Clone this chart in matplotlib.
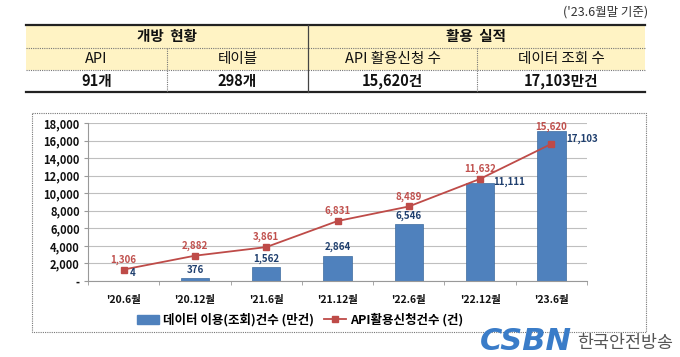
import matplotlib.pyplot as plt
from matplotlib.patches import Rectangle, Patch
from matplotlib.lines import Line2D

plt.rcParams['font.family'] = ['Noto Sans CJK KR', 'DejaVu Sans']

# chart data
periods = ["'20.6월", "'20.12월", "'21.6월", "'21.12월", "'22.6월", "'22.12월", "'23.6월"]
data_views = [4, 376, 1562, 2864, 6546, 11111, 17103]        # 만건 (bars)
api_requests = [1306, 2882, 3861, 6831, 8489, 11632, 15620]  # 건 (line)
y_ticks = [0, 2000, 4000, 6000, 8000, 10000, 12000, 14000, 16000, 18000]

# summary table
group_heads = ['개방  현황', '활용  실적']
sub_heads = ['API', '테이블', 'API 활용신청 수', '데이터 조회 수']
sub_values = ['91개', '298개', '15,620건', '17,103만건']

W, H = 680, 357
fig = plt.figure(figsize=(W / 100, H / 100), dpi=100)

# overlay axes in pixel coords for table, border, logo
bg = fig.add_axes([0, 0, 1, 1])
bg.set_xlim(0, W)
bg.set_ylim(H, 0)
bg.axis('off')

bg.text(648, 12, "('23.6월말 기준)", ha='right', va='center', fontsize=9, color='#333333')

x0, x1 = 26, 645
xmid = 308
xsub = [167, 477]
r0, r1, r2, r3 = 25, 48, 70, 92
yellow = '#FFF3C4'
bg.add_patch(Rectangle((x0, r0), x1 - x0, r2 - r0, color=yellow, lw=0))
bg.plot([x0, x1], [r0, r0], color='#222222', lw=1.6)
bg.plot([x0, x1], [r3, r3], color='#222222', lw=1.6)
bg.plot([x0, x1], [r1, r1], color='#777777', lw=0.8, ls=(0, (1, 1)))
bg.plot([x0, x1], [r2, r2], color='#777777', lw=0.8, ls=(0, (1, 1)))
bg.plot([xmid, xmid], [r0, r3], color='#444444', lw=0.9)
for xs in xsub:
    bg.plot([xs, xs], [r1, r3], color='#777777', lw=0.8, ls=(0, (1, 1)))

bg.text((x0 + xmid) / 2, (r0 + r1) / 2, group_heads[0], ha='center', va='center',
        fontsize=10.5, fontweight='bold', color='#111111')
bg.text((xmid + x1) / 2, (r0 + r1) / 2, group_heads[1], ha='center', va='center',
        fontsize=10.5, fontweight='bold', color='#111111')
edges = [x0, xsub[0], xmid, xsub[1], x1]
for i in range(4):
    cx = (edges[i] + edges[i + 1]) / 2
    bg.text(cx, (r1 + r2) / 2, sub_heads[i], ha='center', va='center', fontsize=10.5, color='#111111')
    bg.text(cx, (r2 + r3) / 2, sub_values[i], ha='center', va='center', fontsize=10.5,
            fontweight='bold', color='#111111')

# chart border (dotted)
bg.add_patch(Rectangle((32, 113), 646 - 32, 332 - 113, fill=False, ec='#777777',
                       lw=0.8, ls=(0, (1, 1))))

# logo
bg.text(480, 342, 'CSBN', ha='left', va='center', fontsize=22, fontweight='bold',
        style='italic', color='#3A7CC8', family='DejaVu Sans')
bg.text(577, 343, '한국안전방송', ha='left', va='center', fontsize=12.5, color='#555555')

# main chart
ax = fig.add_axes([88 / W, (H - 281) / H, (587 - 88) / W, (281 - 123) / H])
xs = range(len(periods))
bar_c = '#4F81BD'
line_c = '#BE4B48'
ax.bar(xs, data_views, width=0.4, color=bar_c, edgecolor='#3D6B9E', lw=0.5, zorder=2)
ax.plot(xs, api_requests, color=line_c, lw=1.3, marker='s', ms=5, zorder=3)

ax.set_xlim(-0.5, len(periods) - 0.5)
ax.set_ylim(0, 18000)
ax.set_yticks(y_ticks)
ax.set_yticklabels(['-'] + [f'{v:,}' for v in y_ticks[1:]])
ax.set_xticks(list(xs))
ax.set_xticklabels(periods)
ax.set_xticks([i + 0.5 for i in range(-1, len(periods))], minor=True)
ax.tick_params(axis='x', which='major', length=0, pad=10, labelsize=7.5)
ax.tick_params(axis='x', which='minor', length=3, color='#999999')
ax.tick_params(axis='y', length=3, color='#999999', labelsize=8, pad=3)
for lab in ax.get_xticklabels() + ax.get_yticklabels():
    lab.set_fontweight('bold')
    lab.set_color('#111111')
ax.grid(axis='y', color='#BFBFBF', lw=0.8, zorder=0)
for s in ['top', 'right']:
    ax.spines[s].set_visible(False)
ax.spines['left'].set_color('#999999')
ax.spines['bottom'].set_color('#999999')

# line labels
for i, v in enumerate(api_requests):
    dy = 17 if i == len(api_requests) - 1 else 10
    ax.annotate(f'{v:,}', (i, v), xytext=(0, dy), textcoords='offset pixels',
                ha='center', va='center', fontsize=7, fontweight='bold', color='#C0504D')

# bar labels
bar_offsets = [(9, 8), (0, 8), (0, 8), (0, 9), (0, 8), (29, 2), (31, -8)]
for i, v in enumerate(data_views):
    dx, dy = bar_offsets[i]
    ax.annotate(f'{v:,}', (i, v), xytext=(dx, dy), textcoords='offset pixels',
                ha='center', va='center', fontsize=7, fontweight='bold', color='#1F3F6E')

handles = [Patch(color=bar_c),
           Line2D([0], [0], color=line_c, lw=1.3, marker='s', ms=4)]
fig.legend(handles, ['데이터 이용(조회)건수 (만건)', 'API활용신청건수 (건)'],
           loc='center', bbox_to_anchor=(300 / W, (H - 320) / H), ncol=2, frameon=False,
           prop={'size': 9, 'weight': 'bold'}, handlelength=1.8, handletextpad=0.3,
           columnspacing=0.8)

fig.savefig('out.png', dpi=100)
